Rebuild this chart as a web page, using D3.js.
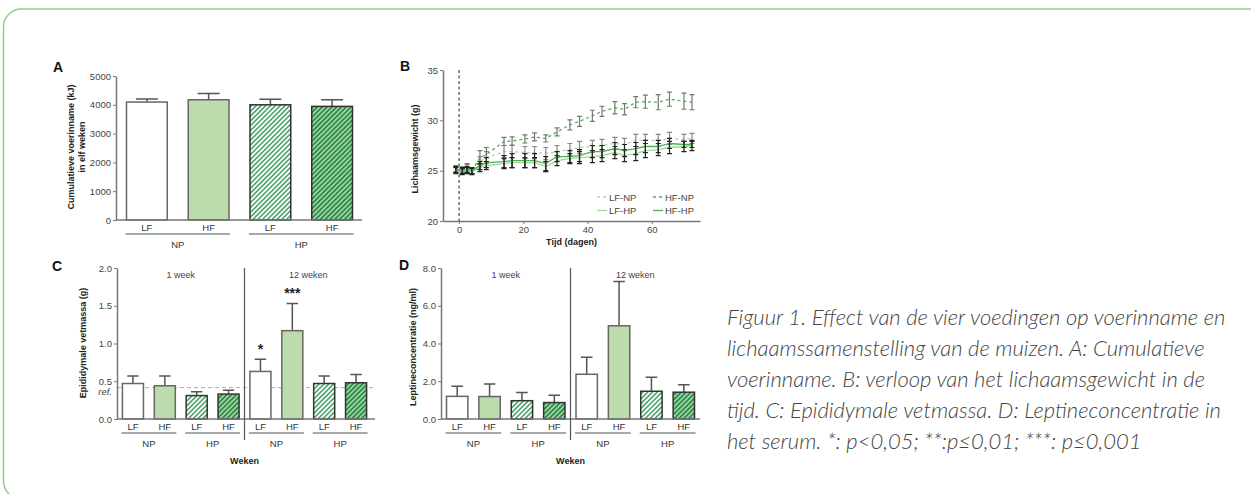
<!DOCTYPE html>
<html>
<head>
<meta charset="utf-8">
<script src="https://cdn.jsdelivr.net/npm/d3@7"></script>
<style>
body { margin: 0; background: #fff; }
svg text { font-family: "Liberation Sans", Arial, sans-serif; }
.tick text { fill: #444; font-size: 9.5px; }
.axis path, .axis line { stroke: #777; }
.axis path { stroke-width: 1.5; }
.caption { font-family: Lato, "Open Sans", sans-serif; font-style: italic; font-weight: 300; fill: #444; }
</style>
</head>
<body>
<svg id="fig" width="1251" height="494"></svg>
<script>
// ---- data ----
// A: cumulative intake (kJ) over eleven weeks
var intakeLabels = ["LF", "HF", "LF", "HF"];
var intakeMean = [4095, 4175, 4000, 3945];
var intakeSem = [110, 215, 195, 230];

// B: body weight (g) over time (days)
var days = [-1, 1, 2.5, 4, 6.5, 8.5, 14, 16.5, 20.5, 23.5, 27, 30.5, 34.5, 37.5, 41.5, 44.5, 48.5, 51.5, 55, 58, 62, 65.5, 70, 72.5];
var lfNp = [25.1, 25.1, 25.2, 25.0, 25.9, 26.3, 26.9, 26.9, 26.8, 26.8, 26.7, 26.9, 27.1, 27.3, 27.4, 27.5, 27.7, 27.6, 28.0, 28.0, 28.0, 28.2, 28.1, 28.2];
var hfNp = [25.2, 25.0, 25.3, 25.0, 26.3, 26.6, 27.9, 27.95, 28.15, 28.35, 28.2, 28.85, 29.55, 29.9, 30.45, 30.9, 31.25, 31.1, 31.8, 31.85, 31.8, 32.1, 31.9, 31.8];
var lfHp = [25.0, 24.9, 25.0, 24.9, 25.3, 25.5, 25.7, 25.8, 25.8, 25.8, 25.4, 26.0, 26.2, 26.3, 26.4, 26.5, 26.8, 26.5, 26.7, 27.0, 27.1, 27.3, 27.4, 27.5];
var hfHp = [25.1, 25.0, 25.1, 25.0, 25.5, 25.8, 25.9, 26.0, 26.0, 26.0, 25.7, 26.4, 26.4, 26.5, 26.9, 26.9, 27.2, 27.0, 27.2, 27.4, 27.4, 27.7, 27.6, 27.6];
var lfNpSem = [0.3, 0.3, 0.4, 0.3, 0.5, 0.6, 0.6, 0.6, 0.6, 0.6, 0.6, 0.6, 0.6, 0.6, 0.6, 0.6, 0.6, 0.6, 0.6, 0.6, 0.6, 0.6, 0.5, 0.5];
var hfNpSem = [0.3, 0.3, 0.4, 0.3, 0.7, 0.7, 0.4, 0.4, 0.4, 0.4, 0.35, 0.4, 0.5, 0.5, 0.55, 0.5, 0.6, 0.55, 0.55, 0.65, 0.75, 0.7, 0.8, 0.75];
var lfHpSem = [0.3, 0.3, 0.3, 0.3, 0.4, 0.4, 0.5, 0.5, 0.5, 0.5, 0.5, 0.5, 0.5, 0.6, 0.6, 0.6, 0.6, 0.6, 0.7, 0.7, 0.6, 0.6, 0.5, 0.5];
var hfHpSem = [0.3, 0.3, 0.3, 0.3, 0.4, 0.5, 0.6, 0.7, 0.7, 0.7, 0.7, 0.5, 0.6, 0.6, 0.6, 0.6, 0.6, 0.6, 0.6, 0.6, 0.6, 0.5, 0.3, 0.3];

// C and D: per time point and diet
var dietLabels = ["LF", "HF", "LF", "HF", "LF", "HF", "LF", "HF"];
var fatMean = [0.47, 0.44, 0.31, 0.33, 0.63, 1.17, 0.47, 0.48];
var fatSem = [0.10, 0.13, 0.05, 0.05, 0.16, 0.36, 0.10, 0.11];
var fatStars = ["", "", "", "", "*", "***", "", ""];
var fatRef = 0.415;
var leptinMean = [1.20, 1.19, 0.97, 0.87, 2.37, 4.94, 1.47, 1.42];
var leptinSem = [0.53, 0.67, 0.43, 0.39, 0.90, 2.35, 0.74, 0.40];

var captionLines = [
  "Figuur 1. Effect van de vier voedingen op voerinname en",
  "lichaamssamenstelling van de muizen. A: Cumulatieve",
  "voerinname. B: verloop van het lichaamsgewicht in de",
  "tijd. C: Epididymale vetmassa. D: Leptineconcentratie in",
  "het serum. *: p<0,05; **:p\u22640,01; ***: p\u22640,001"
];

var svg = d3.select("#fig");

// frame
svg.append("rect").attr("x", 3.5).attr("y", 9).attr("width", 1270).attr("height", 490)
  .attr("rx", 18).attr("fill", "none").attr("stroke", "#8fcf8c").attr("stroke-width", 1.5);

// fill patterns
var defs = svg.append("defs");
function hatch(id, bg, fg, w) {
  var p = defs.append("pattern").attr("id", id).attr("patternUnits", "userSpaceOnUse")
    .attr("width", 3.4).attr("height", 3.4).attr("patternTransform", "rotate(45)");
  p.append("rect").attr("width", 3.4).attr("height", 3.4).attr("fill", bg);
  p.append("line").attr("x1", 0.8).attr("x2", 0.8).attr("y1", 0).attr("y2", 3.4)
    .attr("stroke", fg).attr("stroke-width", w);
}
hatch("hLight", "#ffffff", "#2f9653", 1.4);
hatch("hDark", "#9fd3a0", "#2a8a48", 1.8);
var fills = ["#ffffff", "#bddcad", "url(#hLight)", "url(#hDark)"];
var strokes = ["#666", "#666", "#333", "#333"];

function letter(t, x, y) {
  svg.append("text").attr("x", x).attr("y", y).attr("font-size", 14).attr("font-weight", "bold")
    .attr("fill", "#111").text(t);
}

function yTitle(lines, x, y) {
  var t = svg.append("text").attr("transform", "translate(" + x + "," + y + ")rotate(-90)")
    .attr("text-anchor", "middle").attr("font-size", 9).attr("font-weight", "bold").attr("fill", "#222");
  lines.forEach(function (l, i) {
    t.append("tspan").attr("x", 0).attr("dy", i == 0 ? 0 : 10.5).text(l);
  });
}

// generic bar panel
function barPanel(o) {
  var g = svg.append("g");
  var x = d3.scaleBand().domain(d3.range(o.mean.length)).range(o.xr).paddingInner(0.34).paddingOuter(0.17);
  var y = d3.scaleLinear().domain(o.dom).range(o.yr);
  var bw = x.bandwidth();

  if (o.ref != null) {
    g.append("line").attr("x1", o.xr[0]).attr("x2", o.axisEnd).attr("y1", y(o.ref)).attr("y2", y(o.ref))
      .attr("stroke", "#aaa").attr("stroke-dasharray", "4,3");
    g.append("text").attr("x", o.xr[0] - 5).attr("y", y(o.ref) + 7).attr("text-anchor", "end")
      .attr("font-size", 9.5).attr("font-style", "italic").attr("fill", "#444").text("ref.");
  }

  // error bars (upper only)
  g.selectAll(".eb").data(o.mean).enter().append("path")
    .attr("d", function (d, i) {
      var cx = x(i) + bw / 2, top = y(d + o.sem[i]);
      return "M" + cx + "," + y(d) + "V" + top + "M" + (cx - bw * 0.27) + "," + top + "H" + (cx + bw * 0.27);
    })
    .attr("stroke", "#555").attr("stroke-width", 1.5).attr("fill", "none");

  g.selectAll(".bar").data(o.mean).enter().append("rect")
    .attr("x", function (d, i) { return x(i); })
    .attr("y", function (d) { return y(d); })
    .attr("width", bw)
    .attr("height", function (d) { return y(0) - y(d); })
    .attr("fill", function (d, i) { return fills[i % 4]; })
    .attr("stroke", function (d, i) { return strokes[i % 4]; })
    .attr("stroke-width", 1.5);

  if (o.stars) {
    g.selectAll(".star").data(o.mean).enter().append("text")
      .attr("x", function (d, i) { return x(i) + bw / 2; })
      .attr("y", function (d, i) { return y(d + o.sem[i]) - 5; })
      .attr("text-anchor", "middle").attr("font-size", 14).attr("font-weight", "bold").attr("fill", "#222")
      .text(function (d, i) { return o.stars[i]; });
  }

  g.append("g").attr("class", "axis").attr("transform", "translate(" + o.xr[0] + ",0)")
    .call(d3.axisLeft(y).tickValues(o.ticks).tickFormat(o.fmt).tickSize(3).tickSizeOuter(0).tickPadding(2));
  g.append("line").attr("x1", o.xr[0]).attr("x2", o.axisEnd).attr("y1", y(0)).attr("y2", y(0))
    .attr("stroke", "#777").attr("stroke-width", 1.5);

  // category labels
  g.selectAll(".cat").data(o.labels).enter().append("text")
    .attr("x", function (d, i) { return x(i) + bw / 2; })
    .attr("y", y(0) + 11).attr("text-anchor", "middle").attr("font-size", 9.5).attr("fill", "#333")
    .text(function (d) { return d; });

  // NP / HP group lines
  var groups = d3.range(o.mean.length / 2);
  groups.forEach(function (k) {
    var a = x(2 * k) - 1, b = x(2 * k + 1) + bw + 1;
    g.append("line").attr("x1", a).attr("x2", b).attr("y1", y(0) + 14).attr("y2", y(0) + 14)
      .attr("stroke", "#555").attr("stroke-width", 1.2);
    g.append("text").attr("x", (a + b) / 2).attr("y", y(0) + 28).attr("text-anchor", "middle")
      .attr("font-size", 9.5).attr("fill", "#333").text(k % 2 == 0 ? "NP" : "HP");
  });

  if (o.split) {
    var sx = (x(3) + bw + x(4)) / 2;
    g.append("line").attr("x1", sx).attr("x2", sx).attr("y1", o.yr[1]).attr("y2", y(0) + 21)
      .attr("stroke", "#555").attr("stroke-width", 1.2);
    g.append("text").attr("x", (x(1) + x(2) + bw) / 2).attr("y", o.yr[1] + 10).attr("text-anchor", "middle")
      .attr("font-size", 9).attr("fill", "#444").text("1 week");
    g.append("text").attr("x", (x(5) + x(6) + bw) / 2).attr("y", o.yr[1] + 10).attr("text-anchor", "middle")
      .attr("font-size", 9).attr("fill", "#444").text("12 weken");
    g.append("text").attr("x", sx).attr("y", y(0) + 45).attr("text-anchor", "middle")
      .attr("font-size", 9).attr("font-weight", "bold").attr("fill", "#222").text("Weken");
  }
}

// ---- A ----
letter("A", 53, 72);
yTitle(["Cumulatieve voerinname (kJ)", "in elf weken"], 74, 147);
barPanel({
  mean: intakeMean, sem: intakeSem, labels: intakeLabels,
  xr: [116, 363], axisEnd: 362, yr: [220, 76], dom: [0, 5000],
  ticks: [0, 1000, 2000, 3000, 4000, 5000], fmt: d3.format("d")
});

// ---- C ----
letter("C", 52, 271);
yTitle(["Epididymale vetmassa (g)"], 86, 343);
barPanel({
  mean: fatMean, sem: fatSem, labels: dietLabels, stars: fatStars, ref: fatRef, split: true,
  xr: [117, 372], axisEnd: 375, yr: [419, 268], dom: [0, 2],
  ticks: [0, 0.5, 1, 1.5, 2], fmt: d3.format(".1f")
});

// ---- D ----
letter("D", 399, 270);
yTitle(["Leptineconcentratie (ng/ml)"], 416, 347);
barPanel({
  mean: leptinMean, sem: leptinSem, labels: dietLabels, split: true,
  xr: [441, 700], axisEnd: 700, yr: [419, 268], dom: [0, 8],
  ticks: [0, 2, 4, 6, 8], fmt: d3.format(".1f")
});

// ---- B ----
letter("B", 400, 71);
var bx = d3.scaleLinear().domain([-5, 75]).range([443, 700]);
var by = d3.scaleLinear().domain([20, 35]).range([221, 70]);
var gB = svg.append("g");
gB.append("g").attr("class", "axis").attr("transform", "translate(443,0)")
  .call(d3.axisLeft(by).tickValues([20, 25, 30, 35]).tickSize(3).tickSizeOuter(0).tickPadding(2));
gB.append("g").attr("class", "axis").attr("transform", "translate(0,221)")
  .call(d3.axisBottom(bx).tickValues([0, 20, 40, 60]).tickSize(3).tickSizeOuter(0).tickPadding(2));
gB.append("line").attr("x1", bx(0)).attr("x2", bx(0)).attr("y1", by(35)).attr("y2", by(20))
  .attr("stroke", "#222").attr("stroke-dasharray", "3,2.5");
gB.append("text").attr("x", bx(35)).attr("y", 245).attr("text-anchor", "middle")
  .attr("font-size", 9).attr("font-weight", "bold").attr("fill", "#222").text("Tijd (dagen)");
yTitle(["Lichaamsgewicht (g)"], 418, 149);

var series = [
  { name: "LF-NP", v: lfNp, s: lfNpSem, col: "#a9d9a2", dash: "3,3", eb: "#888" },
  { name: "HF-NP", v: hfNp, s: hfNpSem, col: "#4fb153", dash: "3,3", eb: "#777" },
  { name: "LF-HP", v: lfHp, s: lfHpSem, col: "#9fd59b", dash: null, eb: "#222" },
  { name: "HF-HP", v: hfHp, s: hfHpSem, col: "#4caf50", dash: null, eb: "#222" }
];
var line = d3.line().x(function (d) { return bx(d[0]); }).y(function (d) { return by(d[1]); });
series.forEach(function (s) {
  var pts = days.map(function (d, i) { return [d, s.v[i], s.s[i]]; });
  gB.append("path").datum(pts).attr("d", line).attr("fill", "none")
    .attr("stroke", s.col).attr("stroke-width", 1.3).attr("stroke-dasharray", s.dash);
  gB.selectAll(null).data(pts).enter().append("path")
    .attr("d", function (d) {
      var cx = bx(d[0]), t = by(d[1] + d[2]), b = by(d[1] - d[2]);
      return "M" + cx + "," + t + "V" + b + "M" + (cx - 2.5) + "," + t + "H" + (cx + 2.5) +
        "M" + (cx - 2.5) + "," + b + "H" + (cx + 2.5);
    })
    .attr("stroke", s.eb).attr("stroke-width", 1.2).attr("fill", "none");
});

// legend
series.forEach(function (s, i) {
  var lx = i % 2 == 0 ? 597 : 653, ly = i < 2 ? 197 : 210.5;
  gB.append("line").attr("x1", lx).attr("x2", lx + 10).attr("y1", ly).attr("y2", ly)
    .attr("stroke", s.col).attr("stroke-width", 1.3).attr("stroke-dasharray", s.dash);
  gB.append("text").attr("x", lx + 12).attr("y", ly + 3.5).attr("font-size", 9.5).attr("fill", "#444").text(s.name);
});

// caption
svg.append("g").selectAll("text").data(captionLines).enter().append("text")
  .attr("class", "caption").attr("x", 727).attr("y", function (d, i) { return 325 + i * 31; })
  .attr("font-size", 22).text(function (d) { return d; });
</script>
</body>
</html>
